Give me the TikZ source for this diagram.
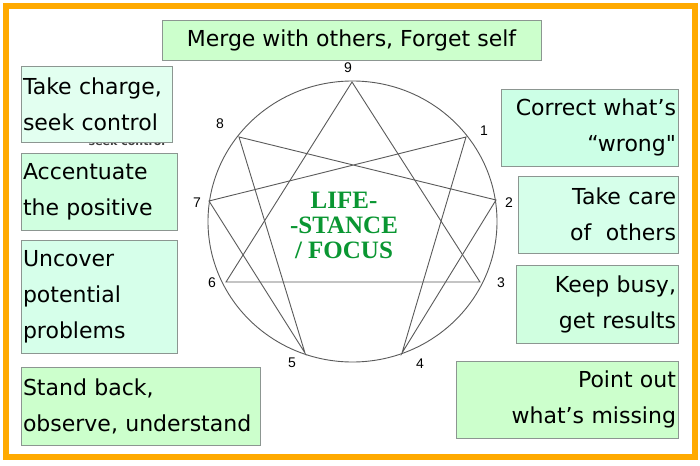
\documentclass[tikz,border=0pt]{standalone}
\usepackage{fontspec}
\newfontfamily\boxfont{DejaVu Sans}
\newfontfamily\stancefont{Liberation Serif}
\newfontfamily\numberfont{Liberation Sans}
\definecolor{frameorange}{RGB}{255,170,0}
\definecolor{boxgray}{RGB}{140,150,145}
\definecolor{mintA}{RGB}{204,255,204}
\definecolor{mintB}{RGB}{226,255,240}
\definecolor{mintC}{RGB}{208,255,224}
\definecolor{mintD}{RGB}{214,255,234}
\definecolor{mintE}{RGB}{204,255,230}
\definecolor{stancegreen}{RGB}{10,150,50}
\definecolor{linegray}{RGB}{90,90,90}
\tikzset{
	stancebox/.style={draw=boxgray,line width=0.8pt,inner xsep=2pt,inner ysep=0pt,
		font=\boxfont\fontsize{22}{36}\selectfont},
	leftbox/.style={stancebox,align=left},
	rightbox/.style={stancebox,align=right},
	pointnum/.style={font=\numberfont\fontsize{14}{14}\selectfont,text=black,inner sep=0pt},
	ennealine/.style={draw=linegray,line width=0.9pt}
}

\begin{document}
\begin{tikzpicture}[x=1pt,y=-1pt]
	\useasboundingbox (0,0) rectangle (700,465);
	\fill[white] (0,0) rectangle (700,465);
	\draw[frameorange,line width=6pt] (6,6) rectangle (694.5,456.5);
	\draw[ennealine] (352.5,221.5) ellipse [x radius=144.5,y radius=140.5];
	\coordinate (p9) at (352,82);
	\coordinate (p1) at (466,137);
	\coordinate (p2) at (496,200);
	\coordinate (p3) at (480,282);
	\coordinate (p4) at (402,353);
	\coordinate (p5) at (305,353);
	\coordinate (p6) at (226,282);
	\coordinate (p7) at (209,201);
	\coordinate (p8) at (239,137);
	\draw[ennealine] (p9) -- (p3) -- (p6) -- cycle;
	\draw[ennealine] (p1) -- (p4) -- (p2) -- (p8) -- (p5) -- (p7) -- cycle;
	\node[pointnum] (n9) at (348,68) {9};
	\node[pointnum] (n1) at (484,131) {1};
	\node[pointnum] (n2) at (509,203) {2};
	\node[pointnum] (n3) at (501,283) {3};
	\node[pointnum] (n4) at (420,364) {4};
	\node[pointnum] (n5) at (292,363) {5};
	\node[pointnum] (n6) at (212,283) {6};
	\node[pointnum] (n7) at (197,203) {7};
	\node[pointnum] (n8) at (220,124) {8};
	\node[align=center,text=stancegreen,font=\stancefont\bfseries\fontsize{25}{25}\selectfont] (focus) at (344,225) {LIFE-\\-STANCE\\/ FOCUS};
	\node[font=\boxfont\bfseries\fontsize{11}{11}\selectfont,text=black!75,inner sep=0pt] (hidden) at (127,141) {seek control};
	\node[stancebox,fill=mintA,minimum width=379,minimum height=40] (merge) at (351.5,40) {Merge with others, Forget self};
	\node[leftbox,fill=mintB,minimum width=151,minimum height=76,text width=147] (charge) at (96.5,104) {Take charge,\\seek control};
	\node[leftbox,fill=mintC,minimum width=156,minimum height=77,text width=152] (accent) at (99,191.5) {Accentuate\\the positive};
	\node[leftbox,fill=mintD,minimum width=156,minimum height=113,text width=152] (uncover) at (99,296.5) {Uncover\\potential\\problems};
	\node[leftbox,fill=mintA,minimum width=239,minimum height=78,text width=235] (standback) at (140.5,406) {Stand back,\\observe, understand};
	\node[rightbox,fill=mintE,minimum width=177,minimum height=77,text width=173] (correct) at (589.5,127.5) {Correct what’s\\“wrong"};
	\node[rightbox,fill=mintD,minimum width=160,minimum height=77,text width=156] (care) at (598,214.5) {Take care\\of~ others};
	\node[rightbox,fill=mintC,minimum width=162,minimum height=78,text width=158] (busy) at (597,304) {Keep busy,\\get results};
	\node[rightbox,fill=mintA,minimum width=222,minimum height=77,text width=218] (missing) at (567,399.5) {Point out\\what’s missing};
\end{tikzpicture}
\end{document}
